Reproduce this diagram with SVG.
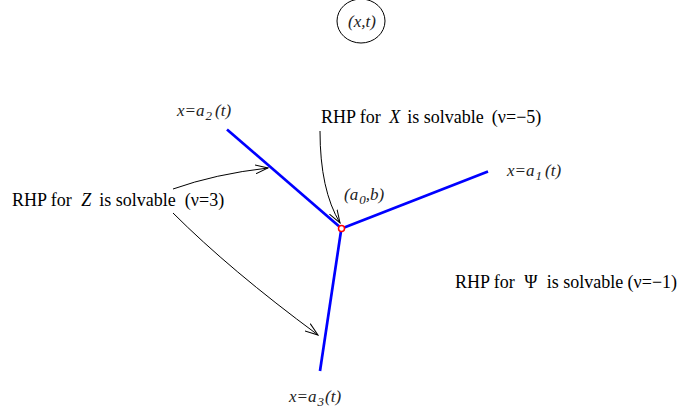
<svg xmlns="http://www.w3.org/2000/svg" width="678" height="417" viewBox="0 0 678 417">
<defs>
<marker id="ah" viewBox="0 0 14 10" refX="13" refY="5" markerWidth="14" markerHeight="10" markerUnits="userSpaceOnUse" orient="auto">
<path d="M0,0.5 L13,5 L0,9.5" fill="none" stroke="#000" stroke-width="1"/>
</marker>
</defs>
<style>
text{font-family:"Liberation Serif","Times New Roman",serif;fill:#000}
.t{font-size:18px}
.l{font-size:17px;font-style:italic;fill:#222}
.i{font-style:italic}
.s{font-size:13px}
.b{stroke:#0000ff;stroke-width:2.7;fill:none;stroke-linecap:butt}
.c{stroke:#000;stroke-width:1;fill:none;marker-end:url(#ah)}
</style>
<rect width="678" height="417" fill="#fff"/>
<g id="node-xt">
<ellipse cx="361" cy="21" rx="24" ry="22" fill="none" stroke="#000" stroke-width="1"/>
<text class="l" x="362" y="27" text-anchor="middle">(x,t)</text>
</g>
<g id="node-lines">
<path class="b" d="M227,129.5 L341,228"/>
<path class="b" d="M343,228 L488,171.5"/>
<path class="b" d="M341,231 L320,371"/>
</g>
<g id="node-junction">
<circle cx="341.5" cy="228.5" r="3" fill="#fff" stroke="#ff0000" stroke-width="1.5"/>
<text class="l" x="344" y="200">(a<tspan class="s" dy="4" dx="1">0</tspan><tspan dy="-4">,b)</tspan></text>
</g>
<g id="node-a1"><text class="l" x="507" y="176">x=a<tspan class="s" dy="4" dx="1">1</tspan><tspan dy="-4" dx="3">(t)</tspan></text></g>
<g id="node-a2"><text class="l" x="177" y="116">x=a<tspan class="s" dy="4" dx="1">2</tspan><tspan dy="-4" dx="3">(t)</tspan></text></g>
<g id="node-a3"><text class="l" x="289" y="402">x=a<tspan class="s" dy="4" dx="1">3</tspan><tspan dy="-4" dx="1">(t)</tspan></text></g>
<g id="node-X"><text class="t" x="321" y="123">RHP for <tspan class="i" dx="4">X</tspan><tspan dx="7">is solvable</tspan><tspan dx="8">(ν=−5)</tspan></text></g>
<g id="node-Z"><text class="t" x="12" y="206">RHP for <tspan class="i" dx="5">Z</tspan><tspan dx="8">is solvable</tspan><tspan dx="9">(ν=3)</tspan></text></g>
<g id="node-Psi"><text class="t" x="455" y="288">RHP for <tspan dx="5">Ψ</tspan><tspan dx="9">is solvable (ν=−1)</tspan></text></g>
<g id="connectors">
<path class="c" d="M173,189 Q215,174 268,168"/>
<path class="c" d="M173,213 Q230,270 318,335"/>
<path class="c" d="M320,131 Q320,190 340,223"/>
</g>
</svg>
